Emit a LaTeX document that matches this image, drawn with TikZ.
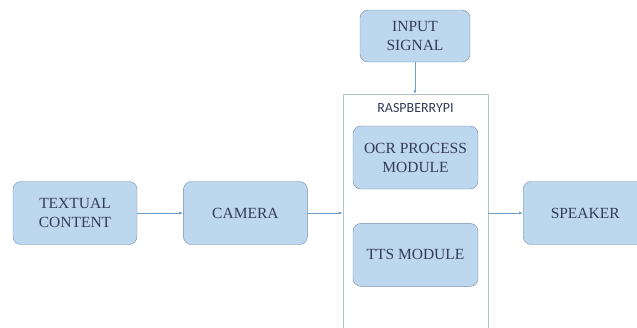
\documentclass[tikz,border=0pt]{standalone}
\usepackage{fontspec}
\setmainfont{Liberation Serif}
\newfontfamily\labelfont{Carlito}
\definecolor{boxfill}{RGB}{189,215,238}
\definecolor{boxline}{RGB}{115,140,170}
\definecolor{arrowblue}{RGB}{110,155,200}
\definecolor{textblue}{RGB}{50,60,90}
\definecolor{frameline}{RGB}{175,195,205}
\usetikzlibrary{positioning,arrows.meta}

\begin{document}
\begin{tikzpicture}[x=1pt, y=-1pt, node distance=46pt, >={Latex[length=4pt,width=3pt]},
  every node/.style={font=\fontsize{15.5}{19}\selectfont, text=textblue},
  box/.style={draw=boxline, fill=boxfill, rounded corners=8pt, align=center, inner sep=2pt, minimum width=124pt, minimum height=63pt},
  link/.style={->, draw=arrowblue, line width=0.6pt}]
\useasboundingbox (0,0) rectangle (637,327);
\clip (0,0) rectangle (637,327);

\node[box] (textual) at (75,213) {TEXTUAL\\CONTENT};
\node[box, right=of textual] (camera) {CAMERA};
\node[draw=frameline, line width=0.8pt, minimum width=145pt, minimum height=245pt, anchor=north] (rpi) at (415.5,94) {};
\node[font=\labelfont\fontsize{14}{16}\selectfont, below=6pt of rpi.north] (rpilabel) {RASPBERRYPI};
\node[box, minimum width=125pt] (ocr) at (415.5,157.5) {OCR PROCESS\\MODULE};
\node[box, minimum width=125pt, below=34pt of ocr] (tts) {TTS MODULE};
\node[box, minimum width=110pt, minimum height=52pt] (input) at (415,36) {INPUT\\SIGNAL};
\node[box, anchor=west] (speaker) at (523,213) {SPEAKER};

\draw[link] (textual) -- (camera);
\draw[link] (camera) -- (camera -| rpi.west);
\draw[link] (input) -- (input |- rpi.north);
\draw[link] (rpi.east |- speaker) -- (speaker);

\end{tikzpicture}
\end{document}
